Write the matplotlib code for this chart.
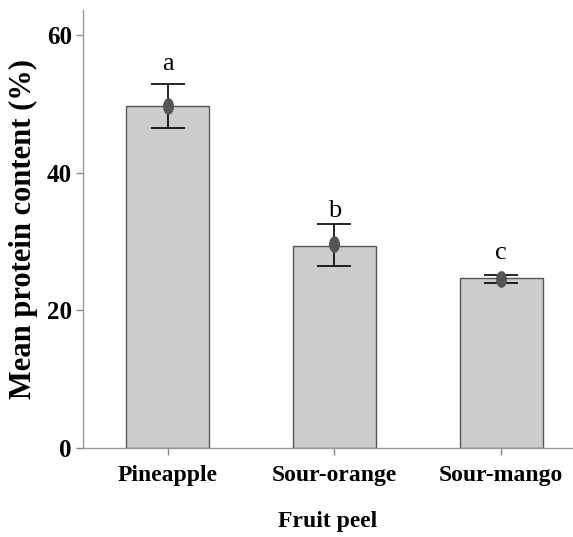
import numpy as np
import matplotlib.pyplot as plt
from matplotlib.path import Path

# data
fruits = ['Pineapple', 'Sour-orange', 'Sour-mango']
bar_means = [49.6, 29.4, 24.7]
point_means = [49.7, 29.6, 24.6]
err_low = [46.5, 26.5, 24.0]
err_high = [52.8, 32.6, 25.2]
groups = ['a', 'b', 'c']
letter_y = [55.8, 34.5, 28.3]
yticks = [0, 20, 40, 60]

plt.rcParams['font.family'] = ['Liberation Serif', 'DejaVu Serif']

fig = plt.figure(figsize=(5.73, 5.37), dpi=100)
ax = fig.add_axes([0.1449, 0.1652, 0.8551, 0.8162])

x = np.arange(len(fruits))
ax.bar(x, bar_means, width=0.5, color='#cccccc', edgecolor='#555555', linewidth=1.0, zorder=1)

# tall ellipse marker like the original
t = np.linspace(0, 2 * np.pi, 60)
ell = Path(np.column_stack([0.62 * np.cos(t), np.sin(t)]), closed=True)

lo = np.array(point_means) - np.array(err_low)
hi = np.array(err_high) - np.array(point_means)
ax.errorbar(x, point_means, yerr=[lo, hi], fmt='none', ecolor='black',
            elinewidth=1.2, capsize=12.5, capthick=1.2, zorder=2)
ax.plot(x, point_means, linestyle='none', marker=ell, markersize=11,
        color='#555555', zorder=3)

for xi, g, ly in zip(x, groups, letter_y):
    ax.text(xi, ly, g, ha='center', va='center', fontsize=19)

ax.set_xlim(-0.507, 2.43)
ax.set_ylim(0, 63.6)
ax.set_yticks(yticks)
ax.set_xticks(x)
ax.set_xticklabels(fruits, fontsize=17, fontweight='bold')
ax.set_yticklabels([str(v) for v in yticks], fontsize=18, fontweight='bold')
ax.tick_params(axis='both', color='#888888', length=5, width=1)
ax.tick_params(axis='x', pad=7)
ax.tick_params(axis='y', pad=3)

for s in ['top', 'right']:
    ax.spines[s].set_visible(False)
for s in ['left', 'bottom']:
    ax.spines[s].set_color('#999999')
    ax.spines[s].set_linewidth(1)

ax.set_xlabel('Fruit peel', fontsize=17, fontweight='bold', labelpad=18)
ax.set_ylabel('Mean protein content (%)', fontsize=22, fontweight='bold', labelpad=6)

fig.savefig('out.png', dpi=100)
